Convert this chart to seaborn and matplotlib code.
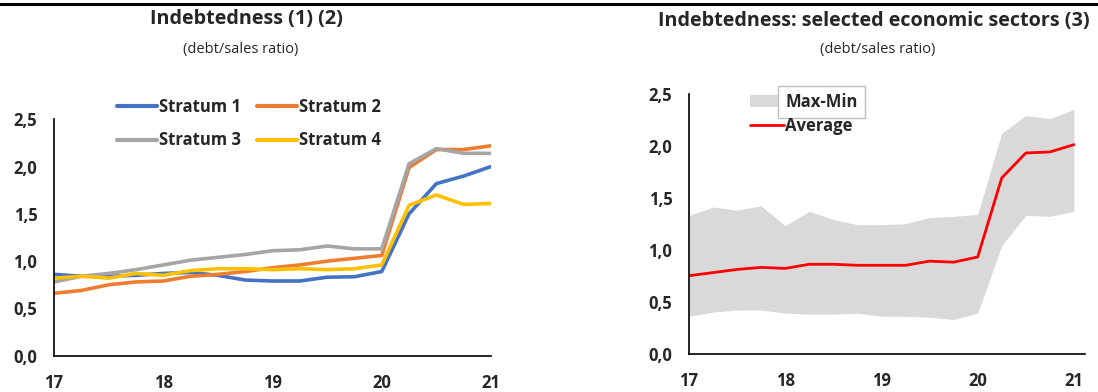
import numpy as np
import pandas as pd
import matplotlib
matplotlib.use("Agg")
import matplotlib.pyplot as plt
import seaborn as sns
from matplotlib.ticker import FuncFormatter
from matplotlib.lines import Line2D
from matplotlib.patches import Patch

sns.set_style("white")
plt.rcParams['font.family'] = ['Open Sans', 'DejaVu Sans']

# Quarterly periods 2017Q1 .. 2021Q1
quarters = ["17Q1", "17Q2", "17Q3", "17Q4", "18Q1", "18Q2", "18Q3", "18Q4",
            "19Q1", "19Q2", "19Q3", "19Q4", "20Q1", "20Q2", "20Q3", "20Q4", "21Q1"]
year_ticks = [17, 18, 19, 20, 21]

stratum1 = [0.86, 0.84, 0.84, 0.85, 0.87, 0.88, 0.85, 0.80, 0.79, 0.79, 0.83, 0.835, 0.89, 1.50, 1.82, 1.90, 2.00]
stratum2 = [0.66, 0.69, 0.75, 0.78, 0.79, 0.84, 0.86, 0.89, 0.93, 0.96, 1.00, 1.03, 1.06, 1.99, 2.18, 2.18, 2.22]
stratum3 = [0.78, 0.84, 0.87, 0.91, 0.96, 1.01, 1.04, 1.07, 1.11, 1.12, 1.16, 1.13, 1.13, 2.03, 2.19, 2.14, 2.14]
stratum4 = [0.82, 0.84, 0.82, 0.87, 0.85, 0.90, 0.92, 0.92, 0.91, 0.92, 0.91, 0.92, 0.96, 1.59, 1.70, 1.60, 1.61]

sector_avg = [0.75, 0.78, 0.81, 0.83, 0.82, 0.86, 0.86, 0.85, 0.85, 0.85, 0.89, 0.88, 0.93, 1.69, 1.93, 1.94, 2.01]
sector_max = [1.33, 1.41, 1.38, 1.42, 1.23, 1.37, 1.29, 1.24, 1.24, 1.25, 1.31, 1.32, 1.34, 2.12, 2.29, 2.26, 2.35]
sector_min = [0.36, 0.40, 0.42, 0.42, 0.39, 0.38, 0.38, 0.39, 0.36, 0.36, 0.35, 0.33, 0.39, 1.04, 1.33, 1.32, 1.37]

strata_names = ["Stratum 1", "Stratum 2", "Stratum 3", "Stratum 4"]
strata_colors = ["#4472C4", "#ED7D31", "#A5A5A5", "#FFC000"]

# numeric positions: year + quarter/4
xpos = [int(q[:2]) + (int(q[3]) - 1) / 4 for q in quarters]

df = pd.DataFrame({
    "x": xpos * 4,
    "value": stratum1 + stratum2 + stratum3 + stratum4,
    "series": sum([[n] * len(quarters) for n in strata_names], []),
})
df_sec = pd.DataFrame({"x": xpos, "avg": sector_avg, "max": sector_max, "min": sector_min})

W, H = 1098, 392
fig = plt.figure(figsize=(W / 100, H / 100), dpi=100)

def fx(px):
    return px / W

def fy(py):
    return 1 - py / H

ax1 = fig.add_axes([fx(54), fy(355.7), fx(491) - fx(54), fy(119.3) - fy(355.7)])
ax2 = fig.add_axes([fx(689), fy(353.7), fx(1085) - fx(689), fy(93.7) - fy(353.7)])

tick_fs = 12
leg_fs = 12
comma = FuncFormatter(lambda v, p: f"{v:.1f}".replace(".", ","))

# Left panel
sns.lineplot(data=df, x="x", y="value", hue="series", hue_order=strata_names,
             palette=strata_colors, linewidth=2.6, ax=ax1, legend=True)
ax1.set_xlim(17, 21)
ax1.set_ylim(0, 2.5)
handles, labels = ax1.get_legend_handles_labels()
ax1.get_legend().remove()
order = [0, 2, 1, 3]
leg1 = fig.legend([handles[i] for i in order], [labels[i] for i in order], ncol=2,
                  loc="center", bbox_to_anchor=(fx(249), fy(123.5)),
                  bbox_transform=fig.transFigure, frameon=False,
                  handlelength=2.4, handletextpad=0.1, columnspacing=1.0,
                  labelspacing=0.95, prop={"weight": "bold", "size": leg_fs})
for h in leg1.get_lines():
    h.set_linewidth(3)

# Right panel
ax2.fill_between(df_sec["x"], df_sec["min"], df_sec["max"], color="#D9D9D9", linewidth=0)
sns.lineplot(data=df_sec, x="x", y="avg", color="#FF0000", linewidth=2.0, ax=ax2)
ax2.set_xlim(17, 21 + 0.46 / 4)
ax2.set_ylim(0, 2.5)
leg2 = fig.legend([Patch(facecolor="#D9D9D9", edgecolor="none"),
                   Line2D([0], [0], color="#FF0000", linewidth=2.0)],
                  ["Max-Min", "Average"], loc="center",
                  bbox_to_anchor=(fx(804), fy(114)), bbox_transform=fig.transFigure,
                  frameon=False, handlelength=2.0, handletextpad=0.1,
                  labelspacing=0.35, prop={"weight": "bold", "size": leg_fs})
leg2.get_texts()[0].set_bbox(dict(facecolor="white", edgecolor="#BFBFBF", pad=5))

for ax in (ax1, ax2):
    ax.set_xlabel("")
    ax.set_ylabel("")
    ax.set_xticks(year_ticks)
    ax.set_xticklabels([str(y) for y in year_ticks])
    ax.set_yticks(np.arange(0, 2.51, 0.5))
    ax.yaxis.set_major_formatter(comma)
    for s in ("top", "right"):
        ax.spines[s].set_visible(False)
    for s in ("left", "bottom"):
        ax.spines[s].set_color("black")
        ax.spines[s].set_linewidth(1.2)
    ax.tick_params(axis="both", which="major", direction="out", length=4, width=1.2,
                   color="black", labelsize=tick_fs)
    ax.tick_params(axis="y", pad=8)
    ax.tick_params(axis="x", pad=9)
    for lab in ax.get_xticklabels() + ax.get_yticklabels():
        lab.set_fontweight("bold")
    ax.grid(False)
    ax.set_facecolor("none")

# Titles
fig.text(fx(246), fy(19), "Indebtedness (1) (2)", ha="center", va="center",
         fontsize=14.2, fontweight="bold")
fig.text(fx(241), fy(50), "(debt/sales ratio)", ha="center", va="center", fontsize=10.5)
fig.text(fx(874), fy(21), "Indebtedness: selected economic sectors (3)", ha="center",
         va="center", fontsize=14.2, fontweight="bold")
fig.text(fx(878), fy(50), "(debt/sales ratio)", ha="center", va="center", fontsize=10.5)

# top rule
fig.add_artist(Line2D([0, 1], [fy(4), fy(4)], color="black", linewidth=2.2,
                      transform=fig.transFigure))

fig.savefig("out.png", dpi=100)
